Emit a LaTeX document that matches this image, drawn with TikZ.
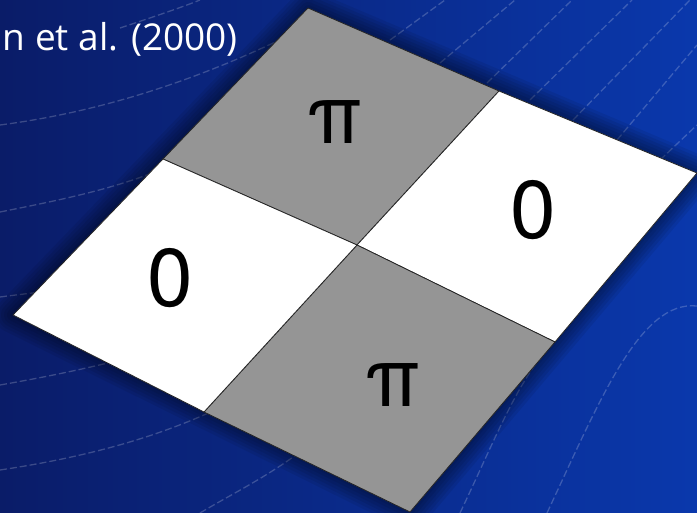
\documentclass[tikz,border=0pt]{standalone}
\usepackage{fontspec}
\setmainfont{TeX Gyre Heros}
\newfontfamily\titlefont{Open Sans}
\usetikzlibrary{positioning}
\definecolor{navy}{HTML}{0A1C68}
\definecolor{brightblue}{HTML}{0A38AC}
\definecolor{tilegray}{HTML}{959595}

\begin{document}
\begin{tikzpicture}[x=1pt, y=-1pt,
    tile/.style={draw=black!85, line width=0.8pt, line join=miter},
    phase/.style={font=\fontsize{82}{82}\selectfont, text=black, inner sep=0pt},
    contour/.style={white, opacity=0.2, line width=1.3pt, dash pattern=on 7pt off 3pt}]
    \useasboundingbox (0,0) rectangle (697,513);
    \clip (0,0) rectangle (697,513);

    % Background
    \shade[left color=navy, right color=brightblue] (0,0) rectangle (697,513);

    % Contour lines
    \draw[contour] (0,125) .. controls (100,112) and (200,80) .. (300,30);
    \draw[contour] (120,28) .. controls (150,18) and (180,8) .. (200,0);
    \draw[contour] (0,212) .. controls (60,200) and (110,190) .. (160,170);
    \draw[contour] (0,297) .. controls (15,295) and (25,294) .. (40,292);
    \draw[contour] (0,385) .. controls (40,378) and (80,370) .. (120,360);
    \draw[contour] (0,470) .. controls (80,458) and (150,440) .. (215,410);
    \draw[contour] (200,513) .. controls (230,495) and (265,478) .. (300,452);
    \draw[contour] (390,40) -- (445,0);
    \draw[contour] (440,63) -- (515,0);
    \draw[contour] (487,83) -- (572,0);
    \draw[contour] (530,100) -- (632,0);
    \draw[contour] (573,120) -- (690,0);
    \draw[contour] (617,140) -- (697,45);
    \draw[contour] (660,160) -- (697,125);
    \draw[contour] (460,513) .. controls (490,450) and (510,400) .. (535,365);
    \draw[contour] (547,513) .. controls (600,400) and (640,300) .. (697,306);

    % Corners of the plate
    \coordinate (top) at (308,8);
    \coordinate (right) at (697,173);
    \coordinate (bottom) at (410,512);
    \coordinate (left) at (13,315);
    \coordinate (centre) at (357,245);
    \coordinate (topleft) at (163,159);
    \coordinate (topright) at (499,91);
    \coordinate (botleft) at (204,412);
    \coordinate (botright) at (555,342);

    % Shadow
    \foreach \w in {36,30,...,6}
        \draw[black, opacity=0.07, line width=\w pt, line join=round]
            (top) -- (right) -- (bottom) -- (left) -- cycle;

    % Tiles
    \filldraw[tile, fill=tilegray] (top) -- (topright) -- (centre) -- (topleft) -- cycle;
    \filldraw[tile, fill=white] (topright) -- (right) -- (botright) -- (centre) -- cycle;
    \filldraw[tile, fill=tilegray] (centre) -- (botright) -- (bottom) -- (botleft) -- cycle;
    \filldraw[tile, fill=white] (topleft) -- (centre) -- (botleft) -- (left) -- cycle;

    % Phase labels
    \node[phase] (pitop) at (335,122) {π};
    \node[phase] (zeroright) at (533,210) {0};
    \node[phase] (zeroleft) at (170,278) {0};
    \node[phase] (pibottom) at (393,385) {π};

    % Citation
    \node[anchor=base east, inner sep=0pt, text=white,
          font=\titlefont\fontsize{37}{37}\selectfont] (cite) at (238,51) {n et al. (2000)};
\end{tikzpicture}
\end{document}
